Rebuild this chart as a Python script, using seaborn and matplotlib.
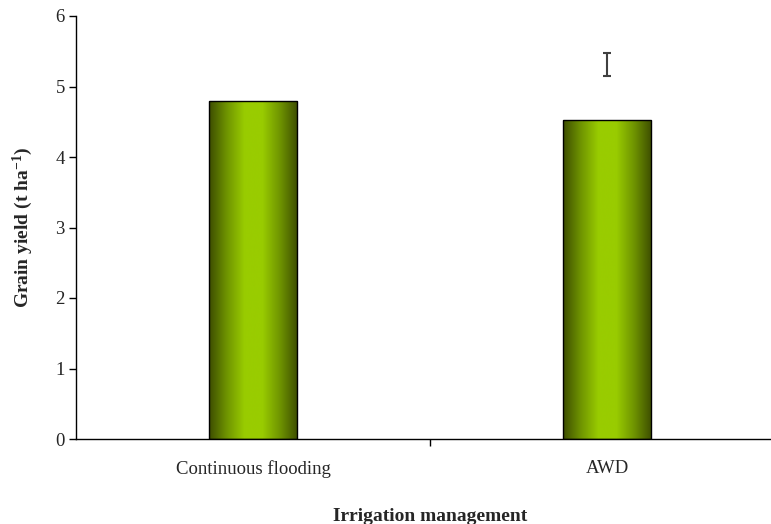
import numpy as np
import pandas as pd
import matplotlib
matplotlib.use("Agg")
import matplotlib.pyplot as plt
import seaborn as sns
from matplotlib.colors import LinearSegmentedColormap

# Data
categories = ["Continuous flooding", "AWD"]
grain_yield = [4.80, 4.52]
err_center = [5.31]
err_half = [0.16]
err_category = ["AWD"]
y_ticks = [0, 1, 2, 3, 4, 5, 6]

sns.set_theme(style="white")
plt.rcParams["font.family"] = ["Liberation Serif", "DejaVu Serif"]
plt.rcParams["mathtext.fontset"] = "custom"
plt.rcParams["mathtext.rm"] = "Liberation Serif"
plt.rcParams["mathtext.bf"] = "Liberation Serif:bold"

fig = plt.figure(figsize=(7.71, 5.24), dpi=100)
ax = fig.add_axes([76 / 771, (524 - 439) / 524, 708 / 771, 423 / 524])

df = pd.DataFrame({"category": categories, "yield": grain_yield})
sns.barplot(data=df, x="category", y="yield", ax=ax, width=0.25,
            color="#99cc00", edgecolor="black", linewidth=1.0, zorder=2)

# Horizontal shading inside each bar: dark olive edges, bright green centre
cmap = LinearSegmentedColormap.from_list(
    "olive", ["#3d4d00", "#6f9400", "#99cc00", "#99cc00", "#6f9400", "#3d4d00"])
grad = np.linspace(0, 1, 256).reshape(1, -1)
for patch in ax.patches:
    x0, y0 = patch.get_x(), patch.get_y()
    w, h = patch.get_width(), patch.get_height()
    im = ax.imshow(grad, extent=[x0, x0 + w, y0, y0 + h], aspect="auto",
                   cmap=cmap, zorder=2.5, interpolation="bicubic")
    im.set_clip_path(patch)
    patch.set_facecolor("none")
    patch.set_zorder(3)

# Error bar for AWD
xpos = [categories.index(c) for c in err_category]
ax.errorbar(xpos, err_center, yerr=err_half, fmt="none", ecolor="#404040",
            elinewidth=1.5, capsize=3, capthick=1.5, zorder=4)

ax.set_xlim(-0.5, 1.5)
ax.set_ylim(0, 6)
ax.set_yticks(y_ticks)
ax.set_yticklabels([str(t) for t in y_ticks], fontsize=13.5)
ax.set_xticks([0, 1])
ax.set_xticklabels(categories, fontsize=13.5)
ax.tick_params(axis="x", length=0, pad=15)
ax.tick_params(axis="y", direction="out", length=5, width=1, color="black", pad=3, left=True)
# category separator tick
ax.set_xticks([0.5], minor=True)
ax.tick_params(axis="x", which="minor", direction="out", length=5, width=1, color="black", bottom=True)

for s in ["top", "right"]:
    ax.spines[s].set_visible(False)
for s in ["left", "bottom"]:
    ax.spines[s].set_color("black")
    ax.spines[s].set_linewidth(1.0)

ax.set_xlabel("Irrigation management", fontsize=14, fontweight="bold", labelpad=22)
ax.set_ylabel("Grain yield (t ha$\\mathbf{^{-1}}$)", fontsize=14, fontweight="bold", labelpad=15)

fig.savefig("out.png", dpi=100)
